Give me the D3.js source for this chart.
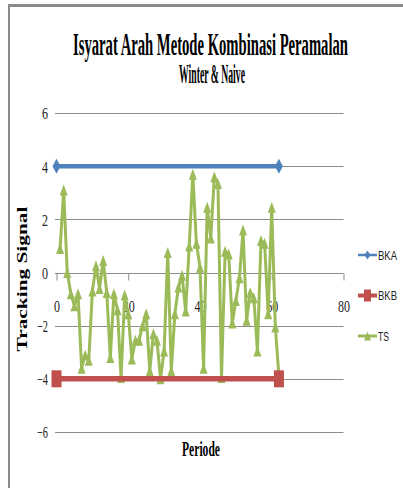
<!DOCTYPE html>
<html><head><meta charset="utf-8">
<script src="https://cdn.jsdelivr.net/npm/d3@7/dist/d3.min.js"></script>
<style>body{margin:0;background:#fff}svg{display:block}</style>
</head><body><svg id="c" width="403" height="488"></svg>
<script>
const tsPeriods = d3.range(1, 63);
const tsValues = [0.9, 3.1, 0.0, -0.8, -1.25, -0.8, -3.6, -3.1, -3.3, -0.7,
  0.25, -0.6, 0.45, -0.75, -3.2, -0.8, -1.4, -3.95, -0.85, -1.55,
  -3.25, -2.55, -2.55, -2.0, -1.55, -3.7, -2.3, -2.55, -4.0, -2.95,
  0.75, -3.7, -1.55, -0.55, -0.1, -1.45, 1.0, 3.7, 1.1, 0.2,
  -3.6, 2.45, 1.3, 3.6, 3.35, -3.95, 0.8, 0.7, -1.9, -1.05,
  -0.2, 1.6, -1.8, -0.75, -0.95, -2.95, 1.2, 1.1, -1.55, 2.45,
  -2.05, -3.9];
const bkaPeriods = [0, 62];
const bkaValues = [4, 4];
const bkbPeriods = [0, 62];
const bkbValues = [-4, -4];
const xTicks = [0, 20, 40, 60, 80];
const yTicks = [-6, -4, -2, 0, 2, 4, 6];
const seriesNames = ["BKA", "BKB", "TS"];
const seriesColors = ["#4F81BD", "#C0504D", "#9BBB59"];
const titleLines = ["Isyarat Arah Metode Kombinasi Peramalan", "Winter & Naive"];
const xTitle = "Periode";
const yTitle = "Tracking Signal";

const svg = d3.select("#c");
svg.append("rect").attr("width", 403).attr("height", 488).attr("fill", "#fff");

// squeeze a text horizontally to a target width (in its own direction)
function fit(node, width) {
  const t = d3.select(node);
  const L = node.getComputedTextLength();
  const tx = +t.attr("x") || 0, ty = +t.attr("y") || 0;
  const prev = t.attr("transform") || "";
  t.attr("x", 0).attr("y", 0)
   .attr("transform", `${prev} translate(${tx},${ty}) scale(${width / L},1)`);
}

// frame (cropped)
svg.append("line").attr("x1", 8).attr("x2", 403).attr("y1", 5.5).attr("y2", 5.5)
  .attr("stroke", "#8a8a8a").attr("stroke-width", 3);
svg.append("line").attr("x1", 9).attr("x2", 9).attr("y1", 4).attr("y2", 488)
  .attr("stroke", "#8a8a8a").attr("stroke-width", 2);

const x = d3.scaleLinear().domain([0, 80]).range([56.5, 343.5]);
const y = d3.scaleLinear().domain([-6, 6]).range([432, 113]);

// gridlines
svg.append("g").selectAll("line").data(yTicks).join("line")
  .attr("x1", 55).attr("x2", x(80))
  .attr("y1", d => Math.round(y(d)) + 0.5).attr("y2", d => Math.round(y(d)) + 0.5)
  .attr("stroke", "#8c8c8c").attr("stroke-width", 1);

const serif = "'Liberation Serif', 'Times New Roman', serif";
const txtLen = s => s.length * 6 - (s.startsWith("-") ? 1 : 0);

// y axis labels
const yAxis = svg.append("g").attr("transform", `translate(${x(0)},0)`)
  .call(d3.axisLeft(y).tickValues(yTicks).tickSize(0).tickPadding(8.5).tickFormat(d3.format("d")));
yAxis.select(".domain").remove();
yAxis.selectAll("text").attr("font-family", serif).attr("font-size", 17.5).attr("fill", "#222")
  .attr("dy", "0.34em")
  .each(function(d) { fit(this, txtLen(String(d))); });

// x axis at y=0
const xAxis = svg.append("g").attr("transform", `translate(0,${Math.round(y(0)) + 0.5})`)
  .call(d3.axisBottom(x).tickValues(xTicks).tickSize(7).tickFormat(d3.format("d")));
xAxis.select(".domain").remove();
xAxis.selectAll(".tick line").attr("stroke", "#8c8c8c");
xAxis.selectAll("text").attr("font-family", serif).attr("font-size", 17.5).attr("fill", "#222")
  .attr("y", 38).attr("dy", 0)
  .each(function(d) { fit(this, txtLen(String(d))); });

// markers
const triPath = (w, h) => `M0,${-h/2}L${w/2},${h/2}L${-w/2},${h/2}Z`;
const diaPath = (w, h) => `M0,${-h/2}L${w/2},0L0,${h/2}L${-w/2},0Z`;

// TS series
const tsData = tsPeriods.map((p, i) => [p, tsValues[i]]);
const line = d3.line().x(d => x(d[0])).y(d => y(d[1]));
svg.append("path").datum(tsData).attr("d", line).attr("fill", "none")
  .attr("stroke", seriesColors[2]).attr("stroke-width", 3).attr("stroke-linejoin", "round");
svg.append("g").selectAll("path").data(tsData).join("path")
  .attr("transform", d => `translate(${x(d[0])},${y(d[1])})`)
  .attr("d", triPath(8, 11)).attr("fill", seriesColors[2]);

// BKA
const bkaData = bkaPeriods.map((p, i) => [p, bkaValues[i]]);
svg.append("path").datum(bkaData).attr("d", line).attr("fill", "none")
  .attr("stroke", seriesColors[0]).attr("stroke-width", 4.5);
svg.append("g").selectAll("path").data(bkaData).join("path")
  .attr("transform", d => `translate(${x(d[0])},${y(d[1])})`)
  .attr("d", diaPath(8, 15)).attr("fill", seriesColors[0]);

// BKB
const bkbData = bkbPeriods.map((p, i) => [p, bkbValues[i]]);
svg.append("path").datum(bkbData).attr("d", line).attr("fill", "none")
  .attr("stroke", seriesColors[1]).attr("stroke-width", 5.5);
svg.append("g").selectAll("rect").data(bkbData).join("rect")
  .attr("x", d => x(d[0]) - 5).attr("y", d => y(d[1]) - 8.5)
  .attr("width", 10).attr("height", 17).attr("fill", seriesColors[1]);

// titles
const t1 = svg.append("text").attr("x", 210.5).attr("y", 55).attr("text-anchor", "middle")
  .attr("font-family", serif).attr("font-weight", "bold").attr("font-size", 32).text(titleLines[0]);
fit(t1.node(), 275);
const t2 = svg.append("text").attr("x", 212).attr("y", 83).attr("text-anchor", "middle")
  .attr("font-family", serif).attr("font-weight", "bold").attr("font-size", 27).text(titleLines[1]);
fit(t2.node(), 66);

const xt = svg.append("text").attr("x", 201).attr("y", 456).attr("text-anchor", "middle")
  .attr("font-family", serif).attr("font-weight", "bold").attr("font-size", 22).text(xTitle);
fit(xt.node(), 38);

const yt = svg.append("text").attr("transform", "translate(27,279) rotate(-90)").attr("text-anchor", "middle")
  .attr("font-family", serif).attr("font-weight", "bold").attr("font-size", 15).text(yTitle);
fit(yt.node(), 145);

// legend
const legY = [255, 295.5, 336];
const leg = svg.append("g");
seriesNames.forEach((name, i) => {
  const g = leg.append("g").attr("transform", `translate(0,${legY[i]})`);
  g.append("line").attr("x1", 358).attr("x2", 377).attr("y1", 0).attr("y2", 0)
    .attr("stroke", seriesColors[i]).attr("stroke-width", [2.5, 4, 3][i]);
  if (i === 0) g.append("path").attr("transform", "translate(367.5,0)").attr("d", diaPath(6, 9)).attr("fill", seriesColors[0]);
  if (i === 1) g.append("rect").attr("x", 364).attr("y", -6).attr("width", 7).attr("height", 12).attr("fill", seriesColors[1]);
  if (i === 2) g.append("path").attr("transform", "translate(367.5,0)").attr("d", triPath(7, 9)).attr("fill", seriesColors[2]);
  const lt = g.append("text").attr("x", 378).attr("y", 4.5).attr("font-family", "'Liberation Sans', Arial, sans-serif")
    .attr("font-size", 12.5).attr("fill", "#222").text(name);
  fit(lt.node(), name.length === 2 ? 11 : 19);
});
</script></body></html>
